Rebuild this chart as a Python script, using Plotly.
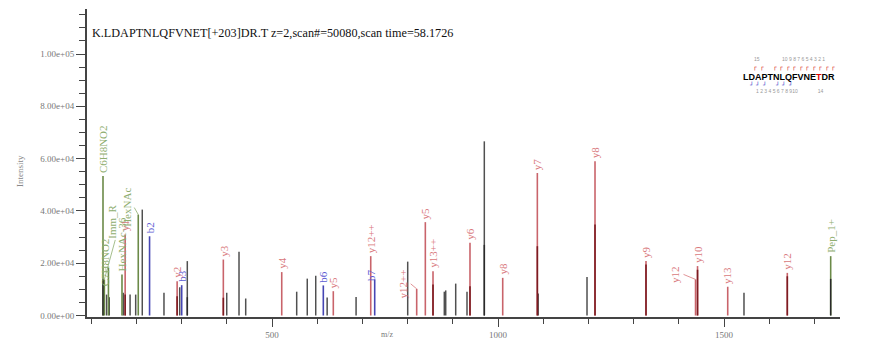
import plotly.graph_objects as go

# ---------------- data ----------------
title_text = "K.LDAPTNLQFVNET[+203]DR.T z=2,scan#=50080,scan time=58.1726"

gray_mz = [134.0, 140.0, 171.0, 186.0, 198.4, 213.0, 261.0, 295.8, 312.6, 399.8, 427.0, 441.8,
           554.6, 578.0, 596.7, 622.0, 686.0, 800.2, 881.2, 884.3, 906.4, 931.4, 969.7, 1089.0,
           1196.9, 1544.2]
gray_int = [8000, 7000, 8700, 8000, 8000, 40500, 8700, 10800, 20800, 8700, 24400, 6500,
            9100, 14100, 15200, 6900, 7100, 20600, 9100, 9600, 12200, 9100, 66600, 8400,
            14700, 8700]

green_mz = [126.1, 129.1, 138.1, 168.1, 204.1, 1736.0]
green_int = [53300, 13800, 18200, 15700, 38600, 22700]
green_lab = ["C6H8NO2", "Imm_R", "C7H8NO2", "HexNAc-36", "HexNAc", "Pep_1+"]

blue_mz = [229.1, 300.2, 613.5, 727.2]
blue_int = [30300, 11600, 11500, 13800]
blue_lab = ["b2", "b3", "b6", "b7"]

red_mz = [175.1, 290.1, 392.3, 521.5, 635.6, 718.4, 820.1, 839.2, 856.2, 938.0, 1010.4,
          1087.0, 1214.6, 1327.4, 1437.0, 1441.4, 1508.2, 1640.0]
red_int = [31000, 13100, 21400, 16600, 9300, 22700, 10200, 35700, 16900, 27800, 14400,
           54500, 59000, 20800, 13800, 18900, 11000, 16300]
red_lab = ["y1", "y2", "y3", "y4", "y5", "y12++", "y12++", "y5", "y13++", "y6", "y8",
           "y7", "y8", "y9", "y12", "y10", "y13", "y12"]
red_dark_int = [8000, 7400, 6800, 0, 0, 0, 0, 0, 11900, 11200, 0,
                26500, 34800, 19500, 0, 17500, 0, 15000]

black_mz = [126.1, 312.6, 969.7, 1736.0]
black_int = [13800, 7000, 27000, 14000]

y_tick_vals = [0, 20000, 40000, 60000, 80000, 100000]
y_tick_text = ["0.00e+00", "2.00e+04", "4.00e+04", "6.00e+04", "8.00e+04", "1.00e+05"]
x_tick_vals = [500, 1000, 1500]
x_tick_text = ["500", "1000", "1500"]

sequence = "LDAPTNLQFVNETDR"
mod_pos = 13            # modified residue (1-based)
y_marks = [13, 12, 10, 9, 8, 7, 6, 5, 4, 3, 2, 1]   # y-ions covered
b_marks = [2, 3, 4, 6, 7, 8]                        # b-ions covered
top_numbers = "15" + "\u2002" * 9 + "10 9 8 7 6 5 4 3 2 1"
bottom_numbers = "1 2 3 4 5 6 7 8 910" + "\u2002" * 8 + "14"

# ---------------- styles ----------------
C_GRAY = "#505050"
C_GREEN = "#6b8a48"
C_BLUE = "#4646b4"
C_RED = "#c9646b"
C_DARKRED = "#7c1c22"
L_GREEN = "#8fae70"
L_BLUE = "#5a5ad2"
L_RED = "#d9787c"
LABEL_FONT = "Liberation Serif"

W, H = 869, 353
ML, MR, MT, MB = 87, 29, 9, 36


def stems(mz, inten):
    xs, ys = [], []
    for m, v in zip(mz, inten):
        if v <= 0:
            continue
        xs += [m, m, None]
        ys += [0, v, None]
    return xs, ys


fig = go.Figure()
for mz, it, col, wd in [(gray_mz, gray_int, C_GRAY, 1.5),
                        (green_mz, green_int, C_GREEN, 1.6),
                        (blue_mz, blue_int, C_BLUE, 1.6),
                        (red_mz, red_int, C_RED, 1.6),
                        (red_mz, red_dark_int, C_DARKRED, 1.6),
                        (black_mz, black_int, "#2a2a2a", 1.5)]:
    x, y = stems(mz, it)
    fig.add_trace(go.Scatter(x=x, y=y, mode="lines", line=dict(color=col, width=wd),
                             hoverinfo="skip", showlegend=False))

# label offsets (pixels) for labels drawn with a leader
leader = {
    ("green", "Imm_R"): (16, -58),
    ("green", "HexNAc"): (-4, -7),
    ("green", "C7H8NO2"): (4, -6),
    ("blue", "b7"): (5, -4),
    ("red", 6): (-6, -5),
    ("red", 14): (-12, -5),
}

annotations = []


def add_labels(kind, mzs, ints, labs, color):
    for i, (m, v, t) in enumerate(zip(mzs, ints, labs)):
        key = (kind, t) if kind != "red" else (kind, i)
        font = dict(family=LABEL_FONT, size=11, color=color)
        if key in leader:
            dx, dy = leader[key]
            annotations.append(dict(x=m, y=v, xref="x", yref="y", text=t, textangle=-90,
                                    showarrow=True, arrowhead=0, arrowwidth=0.8,
                                    arrowcolor=color, ax=dx, ay=dy, standoff=0,
                                    xanchor="center", yanchor="bottom", font=font))
        else:
            annotations.append(dict(x=m, y=v, xref="x", yref="y", text=t, textangle=-90,
                                    showarrow=False, xanchor="center", yanchor="bottom",
                                    yshift=1, font=font))


add_labels("green", green_mz, green_int, green_lab, L_GREEN)
add_labels("blue", blue_mz, blue_int, blue_lab, L_BLUE)
add_labels("red", red_mz, red_int, red_lab, L_RED)

plot_w = W - ML - MR
plot_h = H - MT - MB


def px2paper_x(px):
    return (px - ML) / plot_w


def px2paper_y(py):
    return (H - MB - py) / plot_h


def paper_text(px, py, text, font, xanchor="center", **kw):
    annotations.append(dict(x=px2paper_x(px), y=px2paper_y(py), xref="paper", yref="paper",
                            text=text, showarrow=False, xanchor=xanchor, yanchor="middle",
                            font=font, **kw))


# title
paper_text(90, 33, title_text, dict(family=LABEL_FONT, size=12.2, color="#111"), xanchor="left")
# axis titles
paper_text(20, 171, "Intensity", dict(family=LABEL_FONT, size=9, color="#888"), textangle=-90)
paper_text(387, 334, "m/z", dict(family=LABEL_FONT, size=8, color="#777"))

# peptide coverage graphic
seq_left, seq_w = 740.0, 98.0
cw = seq_w / len(sequence)
seq_html = "".join(
    ("<span style='color:#e00000'>%s</span>" % c) if i + 1 == mod_pos else c
    for i, c in enumerate(sequence))
paper_text(seq_left + seq_w / 2, 77, "<b>%s</b>" % seq_html,
           dict(family="Liberation Sans", size=9, color="#000"))
n = len(sequence)
small = dict(family="Liberation Sans", size=5, color="#999")
for yi in y_marks:
    k = n - yi
    paper_text(seq_left + k * cw + 2, 66.5, "┌",
               dict(family="DejaVu Sans Mono", size=6, color="#d00000"))
for bi in b_marks:
    paper_text(seq_left + bi * cw - 2, 84, "┘",
               dict(family="DejaVu Sans Mono", size=6, color="#2020c0"))
paper_text(seq_left + seq_w / 2, 59, top_numbers, small)
paper_text(seq_left + seq_w / 2, 90.5, bottom_numbers, small)

y_per_px = 20000 / 52.3
fig.update_layout(
    width=W, height=H, margin=dict(l=ML, r=MR, t=MT, b=MB),
    paper_bgcolor="white", plot_bgcolor="white", showlegend=False,
    xaxis=dict(range=[90.7, 1756.6], showline=True, linecolor="#444", linewidth=1.5,
               ticks="outside", ticklen=8, tickwidth=1.2, tickcolor="#444",
               tickvals=x_tick_vals, ticktext=x_tick_text,
               minor=dict(tickmode="linear", tick0=0, dtick=100, ticks="outside",
                          ticklen=5, tickwidth=1, tickcolor="#444", showgrid=False),
               showgrid=False, zeroline=False,
               tickfont=dict(family=LABEL_FONT, size=9, color="#777")),
    yaxis=dict(range=[-1.5 * y_per_px, (H - MB - 1.5 - MT) * y_per_px], showline=True,
               linecolor="#444", linewidth=2, ticks="outside", ticklen=9, tickwidth=1.2,
               tickcolor="#444", tickvals=y_tick_vals, ticktext=y_tick_text,
               minor=dict(tickmode="linear", tick0=0, dtick=5000, ticks="outside",
                          ticklen=6, tickwidth=1, tickcolor="#444", showgrid=False),
               showgrid=False, zeroline=False,
               tickfont=dict(family=LABEL_FONT, size=9, color="#777")),
    annotations=annotations,
)

fig.write_html("out.html")
